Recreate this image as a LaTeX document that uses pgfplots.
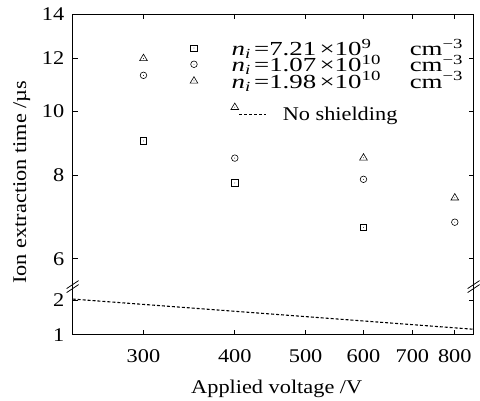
\documentclass[border=0pt]{standalone}
\usepackage{fontspec}
\setmainfont{Liberation Serif}[FakeStretch=1.15]
\newfontfamily\legfont{Liberation Serif}[FakeStretch=1.35]
\usepackage{pgfplots}
\pgfplotsset{compat=1.18}

\newcommand\fs{\fontsize{19.5}{22}\selectfont}
\newcommand\lfs{\legfont\fontsize{20}{22}\selectfont}
\newcommand\rowstrut{\rule[-4pt]{0pt}{12.5pt}}

% open markers with a small dot in the middle
\pgfdeclareplotmark{sqdot}{%
  \pgfpathrectangle{\pgfqpoint{-\pgfplotmarksize}{-\pgfplotmarksize}}{\pgfqpoint{2\pgfplotmarksize}{2\pgfplotmarksize}}%
  \pgfusepathqstroke
  \pgfpathcircle{\pgfpointorigin}{0.45pt}\pgfusepathqfill}
\pgfdeclareplotmark{odot}{%
  \pgfpathcircle{\pgfpointorigin}{\pgfplotmarksize}\pgfusepathqstroke
  \pgfpathcircle{\pgfpointorigin}{0.45pt}\pgfusepathqfill}
\pgfdeclareplotmark{tridot}{%
  \pgfpathmoveto{\pgfqpoint{0pt}{1.1\pgfplotmarksize}}%
  \pgfpathlineto{\pgfqpoint{-1.1\pgfplotmarksize}{-0.75\pgfplotmarksize}}%
  \pgfpathlineto{\pgfqpoint{1.1\pgfplotmarksize}{-0.75\pgfplotmarksize}}%
  \pgfpathclose\pgfusepathqstroke
  \pgfpathcircle{\pgfqpoint{0pt}{-0.1\pgfplotmarksize}}{0.45pt}\pgfusepathqfill}

\begin{document}
\begin{tikzpicture}
\pgfplotsset{
  every axis/.append style={
    scale only axis, width=403pt,
    xmode=log, xmin=240, xmax=849,
    xtick={300,400,500,600,700,800},
    minor xtick={}, minor ytick={},
    tick align=inside, major tick length=5pt,
    axis line style={line width=0.8pt},
    every tick/.style={black, line width=0.8pt},
    tick label style={font=\fs},
    label style={font=\fs},
    yticklabel style={xshift=-5pt},
    xticklabel style={yshift=-11pt},
  }
}
% upper part: log scale 5.45 .. 14
\begin{axis}[
  name=top, at={(0,48.5pt)}, anchor=south west, height=274pt,
  ymode=log, ymin=5.45, ymax=14,
  ytick={6,8,10,12,14}, yticklabels={6,8,10,12,14},
  axis x line*=top, axis y line*=box,
  xticklabels={},
  ylabel={Ion extraction time /µs},
  ylabel style={at={(rel axis cs:-0.127,0.383)}, anchor=center},
  legend style={draw=none, fill=none, font=\lfs,
    at={(rel axis cs:0.2925,0.909)}, anchor=north west,
    row sep=-2pt, inner sep=0pt,
    nodes={inner ysep=0pt},
    /tikz/every odd column/.append style={column sep=32pt}},
  legend cell align=left,
]
\addplot[only marks, mark=sqdot, mark size=3.2pt, line width=0.6pt]
  coordinates {(300,9.02) (400,7.80) (600,6.69)};
\addlegendentry{\rowstrut\makebox[179pt][l]{\textit{n}\textsubscript{\textit{i}}\,=7.21\,×10\textsuperscript{9}}cm\textsuperscript{−3}}
\addplot[only marks, mark=odot, mark size=3.3pt, line width=0.6pt]
  coordinates {(300,11.32) (400,8.50) (600,7.90) (800,6.81)};
\addlegendentry{\rowstrut\makebox[179pt][l]{\textit{n}\textsubscript{\textit{i}}\,=1.07\,×10\textsuperscript{10}}cm\textsuperscript{−3}}
\addplot[only marks, mark=tridot, mark size=3.5pt, line width=0.6pt]
  coordinates {(300,12.02) (400,10.15) (600,8.52) (800,7.42)};
\addlegendentry{\rowstrut\makebox[179pt][l]{\textit{n}\textsubscript{\textit{i}}\,=1.98\,×10\textsuperscript{10}}cm\textsuperscript{−3}}
\end{axis}

% lower part: linear 1 .. 2.39
\begin{axis}[
  name=bot, at={(0,0)}, anchor=south west, height=48.5pt,
  ymin=1, ymax=2.39, ytick={1,2}, yticklabels={1,2},
  axis x line*=bottom, axis y line*=box,
  xticklabels={300,400,500,600,700,800},
  xlabel={Applied voltage /V},
  xlabel style={at={(rel axis cs:0.509,0)}, anchor=center, yshift=-54pt},
  legend style={draw=none, fill=none, font=\fs,
    at={(rel axis cs:0.414,4.56)}, anchor=west, inner sep=0pt,
    nodes={inner ysep=0pt},
    /tikz/every odd column/.append style={column sep=14pt}},
  legend image code/.code={\draw[#1] (0pt,0pt) -- (27pt,0pt);},
]
\addplot[black, line width=1.1pt, dash pattern=on 3pt off 2pt]
  coordinates {(240,2.03) (849,1.16)};
\addlegendentry{No shielding}
\end{axis}

% axis break marks
\foreach \x in {0pt,403pt} {
  \draw[line width=0.8pt] ([xshift=\x]-6pt,42.5pt) -- ([xshift=\x]6pt,50.5pt);
  \draw[line width=0.8pt] ([xshift=\x]-6pt,46.5pt) -- ([xshift=\x]6pt,54.5pt);
}
\path[use as bounding box] (-73pt,-64.5pt) rectangle (407pt,336.5pt);
\end{tikzpicture}
\end{document}
